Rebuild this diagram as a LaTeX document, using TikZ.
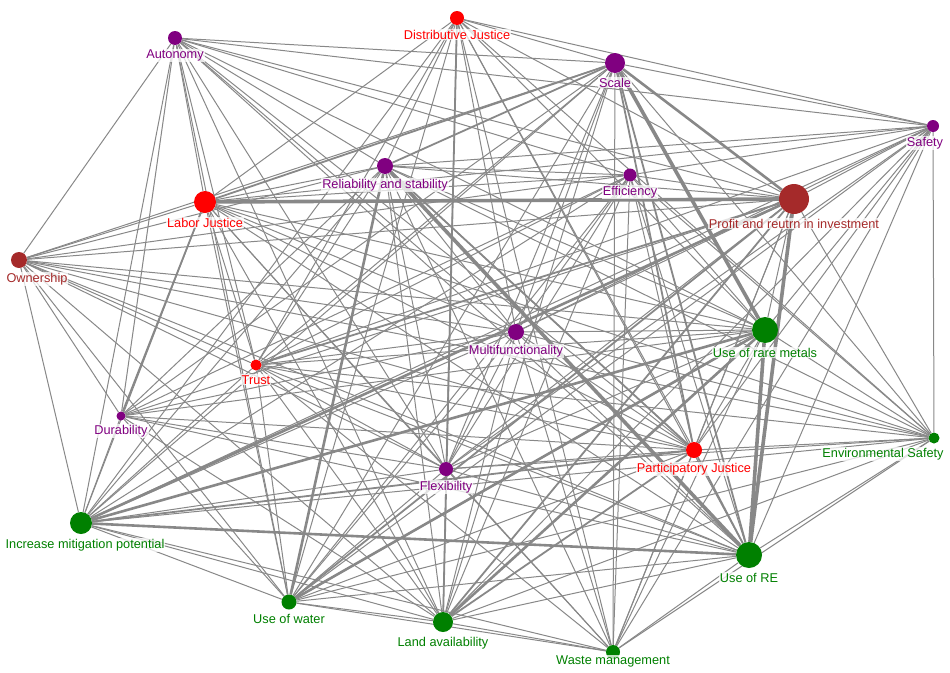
\documentclass[tikz,border=0pt]{standalone}
\usepackage{fontspec}
\setmainfont{Liberation Sans}
\usetikzlibrary{backgrounds}

\definecolor{cpurple}{HTML}{800080}
\definecolor{cred}{HTML}{FF0000}
\definecolor{cbrown}{HTML}{A52A2A}
\definecolor{cgreen}{HTML}{008000}
\definecolor{linkgray}{HTML}{888888}

\tikzset{
    concept/.style={circle, inner sep=0pt, draw=none, fill=#1},
    thinlink/.style={draw=linkgray, line width=1pt},
    midlink/.style={draw=linkgray, line width=1.8pt},
    thicklink/.style={draw=linkgray, line width=2.6pt},
    heavylink/.style={draw=linkgray, line width=3.6pt},
    every label/.style={font=\fontsize{12.75pt}{15pt}\selectfont, fill=white,
        fill opacity=.75, text opacity=1, inner sep=1pt},
}

\begin{document}
\begin{tikzpicture}[x=1pt,y=-1pt,label distance=3.5pt]

    \useasboundingbox (0,0) rectangle (950,672);

    \node[concept=cred,    minimum size=14pt, label={[text=cred]below:Distributive Justice}] (dj) at (457,18) {};
    \node[concept=cpurple, minimum size=14pt, label={[text=cpurple]below:Autonomy}] (au) at (175,38) {};
    \node[concept=cpurple, minimum size=20pt, label={[text=cpurple]below:Scale}] (sc) at (615,63) {};
    \node[concept=cpurple, minimum size=12pt, label={[text=cpurple,xshift=-8pt]below:Safety}] (sa) at (933,126) {};
    \node[concept=cpurple, minimum size=16pt, label={[text=cpurple]below:Reliability and stability}] (rs) at (385,166) {};
    \node[concept=cpurple, minimum size=13pt, label={[text=cpurple]below:Efficiency}] (ef) at (630,175) {};
    \node[concept=cred,    minimum size=22pt, label={[text=cred]below:Labor Justice}] (lj) at (205,202) {};
    \node[concept=cbrown,  minimum size=30pt, label={[text=cbrown]below:Profit and reutrn in investment}] (pr) at (794,199) {};
    \node[concept=cbrown,  minimum size=16pt, label={[text=cbrown,xshift=18pt]below:Ownership}] (ow) at (19,260) {};
    \node[concept=cpurple, minimum size=16pt, label={[text=cpurple]below:Multifunctionality}] (mf) at (516,332) {};
    \node[concept=cgreen,  minimum size=26pt, label={[text=cgreen]below:Use of rare metals}] (rm) at (765,330) {};
    \node[concept=cred,    minimum size=11pt, label={[text=cred]below:Trust}] (tr) at (256,365) {};
    \node[concept=cpurple, minimum size=9pt,  label={[text=cpurple]below:Durability}] (du) at (121,416) {};
    \node[concept=cgreen,  minimum size=11pt, label={[text=cgreen,xshift=-51pt]below:Environmental Safety}] (es) at (934,438) {};
    \node[concept=cred,    minimum size=16pt, label={[text=cred]below:Participatory Justice}] (pj) at (694,450) {};
    \node[concept=cpurple, minimum size=14pt, label={[text=cpurple]below:Flexibility}] (fl) at (446,469) {};
    \node[concept=cgreen,  minimum size=22pt, label={[text=cgreen,xshift=4pt]below:Increase mitigation potential}] (im) at (81,523) {};
    \node[concept=cgreen,  minimum size=26pt, label={[text=cgreen]below:Use of RE}] (re) at (749,555) {};
    \node[concept=cgreen,  minimum size=15pt, label={[text=cgreen]below:Use of water}] (uw) at (289,602) {};
    \node[concept=cgreen,  minimum size=20pt, label={[text=cgreen]below:Land availability}] (la) at (443,622) {};
    \node[concept=cgreen,  minimum size=14pt, label={[text=cgreen,yshift=8pt]below:Waste management}] (wm) at (613,652) {};

    \begin{scope}[on background layer]
    \draw[thinlink] (dj) edge (sc) edge (sa) edge (rs) edge (lj) edge (pr) edge (mf) edge (rm) edge (tr)
        edge (es) edge (pj) edge (fl) edge (im) edge (re) edge (uw) edge (wm);
    \draw[thinlink] (au) edge (sc) edge (sa) edge (rs) edge (ef) edge (lj) edge (pr) edge (ow) edge (mf)
        edge (rm) edge (tr) edge (du) edge (pj) edge (fl) edge (im) edge (re) edge (uw) edge (la);
    \draw[thinlink] (sc) edge (sa) edge (ow) edge (mf) edge (tr) edge (du) edge (es) edge (fl) edge (im)
        edge (uw) edge (la) edge (wm);
    \draw[thinlink] (sa) edge (rs) edge (ef) edge (lj) edge (pr) edge (mf) edge (rm) edge (tr) edge (es)
        edge (pj) edge (fl) edge (im) edge (re) edge (uw) edge (la) edge (wm);
    \draw[thinlink] (rs) edge (ef) edge (lj) edge (pr) edge (ow) edge (mf) edge (rm) edge (tr) edge (du)
        edge (es) edge (pj) edge (fl) edge (im) edge (la) edge (wm);
    \draw[thinlink] (ef) edge (lj) edge (pr) edge (ow) edge (mf) edge (rm) edge (tr) edge (du) edge (es)
        edge (pj) edge (fl) edge (im) edge (re) edge (uw) edge (la) edge (wm);
    \draw[thinlink] (lj) edge (ow) edge (mf) edge (rm) edge (tr) edge (es) edge (pj) edge (fl) edge (im)
        edge (re) edge (uw) edge (la) edge (wm);
    \draw[thinlink] (pr) edge (ow) edge (mf) edge (rm) edge (du) edge (es) edge (pj) edge (fl) edge (wm);
    \draw[thinlink] (ow) edge (mf) edge (rm) edge (tr) edge (du) edge (es) edge (pj) edge (fl) edge (im)
        edge (re) edge (uw) edge (la);
    \draw[thinlink] (mf) edge (rm) edge (tr) edge (du) edge (es) edge (pj) edge (fl) edge (im) edge (re)
        edge (uw) edge (la) edge (wm);
    \draw[thinlink] (rm) edge (tr) edge (du) edge (es) edge (pj) edge (fl) edge (wm);
    \draw[thinlink] (tr) edge (es) edge (pj) edge (fl) edge (im) edge (re) edge (uw) edge (la) edge (wm);
    \draw[thinlink] (du) edge (pj) edge (fl) edge (im) edge (re) edge (uw) edge (la);
    \draw[thinlink] (es) edge (pj) edge (fl) edge (im) edge (re) edge (uw) edge (la) edge (wm);
    \draw[thinlink] (pj) edge (fl) edge (uw) edge (wm);
    \draw[thinlink] (fl) edge (im) edge (re) edge (uw) edge (la) edge (wm);
    \draw[thinlink] (im) edge (uw) edge (la) edge (wm);
    \draw[thinlink] (re) edge (uw) edge (la) edge (wm);
    \draw[thinlink] (uw) edge (la) edge (wm);
    \draw[thinlink] (la) edge (wm);

    \draw[midlink] (lj) edge (du) edge (sc);
    \draw[midlink] (rs) edge (sc) edge (pj);
    \draw[midlink] (sc) edge (re) edge (pj);
    \draw[midlink] (pr) edge (uw) edge (la) edge (tr);
    \draw[midlink] (pj) edge (la) edge (im) edge (re);
    \draw[midlink] (dj) edge (la);

    \draw[thicklink] (im) edge (re) edge (rm) edge (pr);
    \draw[thicklink] (sc) edge (pr);
    \draw[thicklink] (rs) edge (uw);
    \draw[thicklink] (rm) edge (la) edge (uw);

    \draw[heavylink] (lj) -- (pr);
    \draw[heavylink] (rs) -- (re);
    \draw[heavylink] (re) edge (pr) edge (rm);
    \draw[heavylink] (sc) -- (rm);
    \end{scope}
\end{tikzpicture}
\end{document}
